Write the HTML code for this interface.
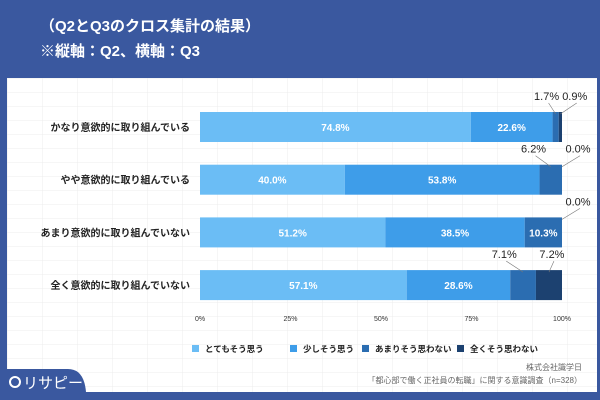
<!DOCTYPE html>
<html><head><meta charset="utf-8"><style>
body{margin:0;width:600px;height:400px;background:#3a589f;overflow:hidden;font-family:"Liberation Sans","Noto Sans CJK JP",sans-serif}
svg{display:block}
</style></head><body>
<svg width="600" height="400">
<defs><pattern id="g" width="35" height="14" patternUnits="userSpaceOnUse" x="7" y="78"><path d="M0 0H35M0 0V14" stroke="#ececec" stroke-width="1" fill="none"/></pattern></defs>
<text x="40" y="31" fill="#fff" font-size="15" font-weight="bold">（Q2とQ3のクロス集計の結果）</text>
<text x="40" y="56" fill="#fff" font-size="15" font-weight="bold">※縦軸：Q2、横軸：Q3</text>
<rect x="7" y="78" width="590" height="314" fill="#fff"/>
<rect x="7" y="78" width="590" height="314" fill="url(#g)"/>
<path d="M0 369H68Q84 369 86 392H0Z" fill="#3a589f"/>
<circle cx="15" cy="382" r="5" fill="none" stroke="#fff" stroke-width="2"/>
<text x="23" y="388" fill="#fff" font-size="15">リサピー</text>
<g id="bars"></g>
<g id="axis"></g>
<g id="legend"></g>
<text x="582" y="370" text-anchor="end" font-size="8" fill="#666">株式会社識学日</text>
<text x="582" y="383" text-anchor="end" font-size="8" fill="#666">「都心部で働く正社員の転職」に関する意識調査（n=328）</text>
</svg>
<script>
const categories=["かなり意欲的に取り組んでいる","やや意欲的に取り組んでいる","あまり意欲的に取り組んでいない","全く意欲的に取り組んでいない"];
const seriesNames=["とてもそう思う","少しそう思う","あまりそう思わない","全くそう思わない"];
const s1=[74.8,40.0,51.2,57.1];
const s2=[22.6,53.8,38.5,28.6];
const s3=[1.7,6.2,10.3,7.1];
const s4=[0.9,0.0,0.0,7.2];
const ticks=[0,25,50,75,100];
const colors=["#6bbdf5","#3e9de9","#2b6db1","#1c4170"];
const NS="http://www.w3.org/2000/svg";
const x0=200,x1=562;
const xs=v=>x0+(x1-x0)*v/100;
const yc=i=>127+i*52.7;
const bh=30;
function mk(t,a,p){const e=document.createElementNS(NS,t);for(const k in a)e.setAttribute(k,a[k]);p.appendChild(e);return e;}
const B=document.getElementById('bars');
const series=[s1,s2,s3,s4];
categories.forEach((c,i)=>{
 const t=mk('text',{x:190,y:yc(i)+4,'text-anchor':'end','font-size':10,'font-weight':'bold',fill:'#222'},B);t.textContent=c;
 
 
 let acc=0;
 series.forEach((s,j)=>{
  const v=s[i];const xa=xs(acc),xb=xs(acc+v);
  const r=mk('rect',{x:xa,y:yc(i)-bh/2,width:Math.max(0,xb-xa),height:bh,fill:colors[j]},B);
  
  
  const lbl=v.toFixed(1)+'%';
  if(j<2 || v>=10){
   const tt=mk('text',{x:(xa+xb)/2,y:yc(i)+4,'text-anchor':'middle','font-size':10,'font-weight':'bold',fill:'#fff'},B);tt.textContent=lbl;
   
   
  } else {
   const lx=j==2?xs(acc)-6:xs(acc)+16;
   const ly=yc(i)-bh/2-12;
   mk('line',{x1:(xa+xb)/2,y1:yc(i)-bh/2+2,x2:lx+2,y2:ly+3,stroke:'#777','stroke-width':0.6},B);
   const tt=mk('text',{x:lx,y:ly,'text-anchor':'middle','font-size':11,fill:'#222'},B);tt.textContent=lbl;
   
   
  }
  acc+=v;
 });
});
const A=document.getElementById('axis');
ticks.forEach(t=>{const e=mk('text',{x:xs(t),y:321,'text-anchor':'middle','font-size':7,fill:'#333'},A);e.textContent=t+'%';
 
 });
const L=document.getElementById('legend');
const lx=[192,290,362,457];
seriesNames.forEach((n,j)=>{
 const g=mk('g',{},L);
 
 
 mk('rect',{x:lx[j],y:345,width:7,height:7,fill:colors[j]},g);
 const t=mk('text',{x:lx[j]+13,y:352,'font-size':8.5,'font-weight':'bold',fill:'#222'},g);t.textContent=n;
});
</script>
</body></html>
